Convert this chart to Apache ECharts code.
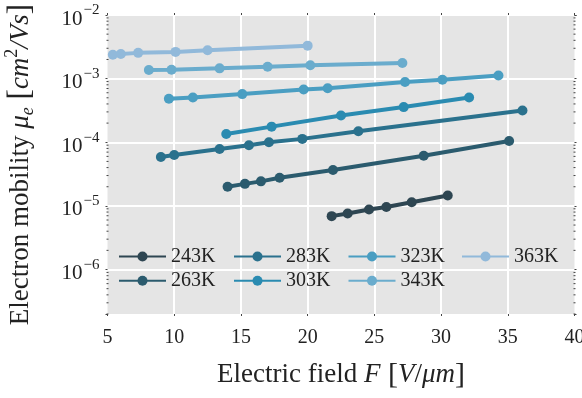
<!DOCTYPE html>
<html>
<head>
<meta charset="utf-8">
<script src="https://cdn.jsdelivr.net/npm/echarts@6/dist/echarts.min.js"></script>
<style>
  html, body { margin: 0; padding: 0; background: #ffffff; }
  #chart { width: 582px; height: 398px; }
</style>
</head>
<body>
<div id="chart"></div>
<script>
// Electron mobility vs electric field, one series per temperature
const temperatures = ['243K', '263K', '283K', '303K', '323K', '343K', '363K'];

const field243 = [21.8, 23.0, 24.6, 25.9, 27.8, 30.5];
const mobility243 = [6.9e-6, 7.6e-6, 8.8e-6, 9.6e-6, 1.14e-5, 1.46e-5];

const field263 = [14.0, 15.3, 16.5, 17.9, 21.9, 28.7, 35.1];
const mobility263 = [2.0e-5, 2.22e-5, 2.43e-5, 2.77e-5, 3.66e-5, 6.15e-5, 1.05e-4];

const field283 = [9.0, 10.0, 13.4, 15.6, 17.1, 19.6, 23.8, 36.1];
const mobility283 = [5.86e-5, 6.31e-5, 7.84e-5, 8.97e-5, 1.0e-4, 1.13e-4, 1.49e-4, 3.15e-4];

const field303 = [13.9, 17.3, 22.5, 27.2, 32.1];
const mobility303 = [1.35e-4, 1.76e-4, 2.63e-4, 3.57e-4, 5.05e-4];

const field323 = [9.6, 11.4, 15.1, 19.7, 21.5, 27.3, 30.1, 34.3];
const mobility323 = [4.82e-4, 5.04e-4, 5.71e-4, 6.73e-4, 7.06e-4, 8.83e-4, 9.61e-4, 1.12e-3];

const field343 = [8.1, 9.8, 13.4, 17.0, 20.2, 27.1];
const mobility343 = [1.37e-3, 1.38e-3, 1.45e-3, 1.54e-3, 1.62e-3, 1.76e-3];

const field363 = [5.4, 6.0, 7.3, 10.1, 12.5, 20.0];
const mobility363 = [2.38e-3, 2.44e-3, 2.54e-3, 2.63e-3, 2.79e-3, 3.30e-3];

const xTicks = [5, 10, 15, 20, 25, 30, 35, 40];
const yDecades = [-6, -5, -4, -3, -2];

const colors = ['#2e4652', '#2b5b6e', '#2a718d', '#2a8bb1', '#4a9ec2', '#6aaccd', '#91b9da'];

const fields = [field243, field263, field283, field303, field323, field343, field363];
const mobilities = [mobility243, mobility263, mobility283, mobility303, mobility323, mobility343, mobility363];

const X_MIN = 5, X_MAX = 40, Y_MIN = 2e-7, Y_MAX = 1e-2;

// log-axis minor tick positions (2..9 within each decade)
const minorTicks = [];
for (let d = -7; d <= -3; d++) {
  for (let m = 2; m <= 9; m++) {
    const v = m * Math.pow(10, d);
    if (v >= Y_MIN && v <= Y_MAX) minorTicks.push([X_MIN, v]);
  }
}

const serif = '"Liberation Serif", "DejaVu Serif", serif';
const tickColor = '#444';
const textColor = '#222';

const lineSeries = temperatures.map((name, i) => ({
  name: name,
  type: 'line',
  data: fields[i].map((f, j) => [f, mobilities[i][j]]),
  symbol: 'circle',
  symbolSize: 10,
  showSymbol: true,
  color: colors[i],
  lineStyle: { width: 4, color: colors[i] },
  itemStyle: { color: colors[i] },
  emphasis: { disabled: true },
  animation: false,
  z: 3
}));

const minorTickSeries = {
  type: 'custom',
  data: minorTicks,
  silent: true,
  animation: false,
  clip: false,
  z: 4,
  renderItem: function (params, api) {
    const v = api.value(1);
    const l = api.coord([X_MIN, v]);
    const r = api.coord([X_MAX, v]);
    const st = { stroke: tickColor, lineWidth: 1 };
    return {
      type: 'group',
      children: [
        { type: 'line', shape: { x1: l[0] - 1, y1: l[1], x2: l[0] + 1, y2: l[1] }, style: st },
        { type: 'line', shape: { x1: r[0] - 1, y1: r[1], x2: r[0] + 1, y2: r[1] }, style: st }
      ]
    };
  }
};

function isDecade(v) {
  const e = Math.log10(v);
  return Math.abs(e - Math.round(e)) < 1e-6 && yDecades.indexOf(Math.round(e)) >= 0;
}

// legend laid out as 4 columns of 2 rows
const legendColumns = [['243K', '263K'], ['283K', '303K'], ['323K', '343K'], ['363K']];
const legendLefts = [118, 233, 347.5, 461];
const legends = legendColumns.map((col, i) => ({
  data: col,
  orient: 'vertical',
  left: legendLefts[i],
  top: 246.5,
  itemWidth: 47,
  itemHeight: 12.5,
  itemGap: 4.3,
  padding: 0,
  selectedMode: false,
  textStyle: { fontFamily: serif, fontSize: 20, color: textColor, lineHeight: 20, padding: [0, 0, 0, 0] }
}));

const chart = echarts.init(document.getElementById('chart'), null, { renderer: 'canvas' });

chart.setOption({
  backgroundColor: '#ffffff',
  animation: false,
  legend: legends,
  grid: {
    left: 107.5, right: 7.5, top: 15, bottom: 84,
    containLabel: false,
    outerBoundsMode: 'none',
    show: true, backgroundColor: '#e5e5e5', borderWidth: 0
  },
  xAxis: [{
    type: 'value',
    min: X_MIN, max: X_MAX, interval: 5,
    axisLine: { show: false },
    axisTick: { show: true, length: 2, lineStyle: { color: tickColor } },
    axisLabel: { fontFamily: serif, fontSize: 20, color: textColor, margin: 14,
      formatter: v => (xTicks.indexOf(v) >= 0 ? String(v) : '') },
    splitLine: { show: true, showMinLine: false, showMaxLine: false, lineStyle: { color: '#ffffff', width: 2 } },
    name: '{n|Electric field }{i|F}{b| [}{i|V}{n|/}{i|μm}{b|]}',
    nameLocation: 'middle',
    nameGap: 46,
    nameTextStyle: {
      fontFamily: serif, fontSize: 27, color: textColor,
      rich: {
        n: { fontFamily: serif, fontSize: 27, color: textColor },
        i: { fontFamily: serif, fontSize: 27, fontStyle: 'italic', color: textColor },
        b: { fontFamily: serif, fontSize: 30, color: textColor }
      }
    }
  }, {
    type: 'value',
    position: 'top',
    min: X_MIN, max: X_MAX, interval: 5,
    axisLine: { show: false },
    axisTick: { show: true, length: 2, lineStyle: { color: tickColor } },
    axisLabel: { show: false },
    splitLine: { show: false }
  }],
  yAxis: [{
    type: 'log',
    min: Y_MIN, max: Y_MAX,
    axisLine: { show: false },
    axisTick: { show: true, length: 2, lineStyle: { color: tickColor } },
    axisLabel: {
      fontFamily: serif, color: textColor, margin: 8,
      formatter: function (v) {
        if (!isDecade(v)) return '';
        const e = Math.round(Math.log10(v));
        return '{b|10}{s|−' + Math.abs(e) + '}';
      },
      rich: {
        b: { fontFamily: serif, fontSize: 21, color: textColor, lineHeight: 24, padding: [8, 0, 0, 0] },
        s: { fontFamily: serif, fontSize: 15, color: textColor, lineHeight: 24, verticalAlign: 'top', padding: [0, 0, 8, 1] }
      }
    },
    splitLine: { show: true, showMinLine: false, showMaxLine: false, lineStyle: { color: '#ffffff', width: 2 } },
    name: '{n|Electron mobility }{i|μ}{u|e}{b| [}{i|cm}{p|2}{i|/Vs}{b|]}',
    nameLocation: 'middle',
    nameGap: 70,
    nameRotate: 90,
    nameTextStyle: {
      fontFamily: serif, fontSize: 27, color: textColor,
      rich: {
        n: { fontFamily: serif, fontSize: 27, color: textColor, lineHeight: 34 },
        i: { fontFamily: serif, fontSize: 27, fontStyle: 'italic', color: textColor, lineHeight: 34 },
        u: { fontFamily: serif, fontSize: 18, fontStyle: 'italic', color: textColor, lineHeight: 34, verticalAlign: 'bottom' },
        p: { fontFamily: serif, fontSize: 18, color: textColor, lineHeight: 34, verticalAlign: 'top' },
        b: { fontFamily: serif, fontSize: 31, color: textColor, lineHeight: 34 }
      }
    }
  }, {
    type: 'log',
    position: 'right',
    min: Y_MIN, max: Y_MAX,
    axisLine: { show: false },
    axisTick: { show: true, length: 2, lineStyle: { color: tickColor } },
    axisLabel: { show: false },
    splitLine: { show: false }
  }],
  series: lineSeries.concat([minorTickSeries])
});
</script>
</body>
</html>
